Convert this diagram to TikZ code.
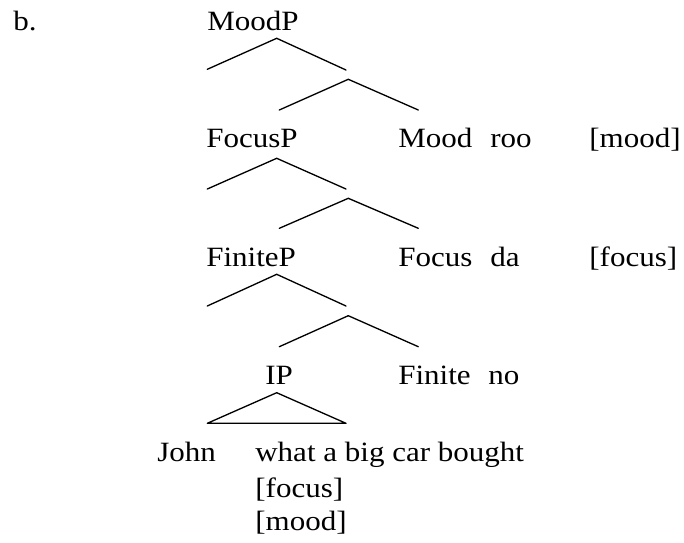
\documentclass[tikz,border=0pt]{standalone}
\usepackage{fontspec}
\setmainfont{Liberation Serif}[FakeStretch=1.11]
\usepackage{tikz,tkz-euclide}

\begin{document}
\begin{tikzpicture}[x=0.02cm,y=-0.02cm, line join=round, line cap=round,
    word/.style={anchor=base west, inner sep=0pt, font=\fontsize{15.9}{18}\selectfont}]
        \useasboundingbox (0,0) rectangle (684,542);
        \node[word] (ex) at (13,30) {b.};
        \node[word] (moodp) at (207,30) {MoodP};
        \node[word] (focusp) at (206,147) {FocusP};
        \node[word] (mood) at (398,147) {Mood};
        \node[word] (roo) at (490,147) {roo};
        \node[word] (fmood) at (589,147) {[mood]};
        \node[word] (finitep) at (206,266) {FiniteP};
        \node[word] (focus) at (398,266) {Focus};
        \node[word] (da) at (490,266) {da};
        \node[word] (ffocus) at (589,266) {[focus]};
        \node[word] (ip) at (265,384) {IP};
        \node[word] (finite) at (398,384) {Finite};
        \node[word] (no) at (488,384) {no};
        \node[word] (john) at (157,461) {John};
        \node[word] (vp) at (255,461) {what a big car bought};
        \node[word] (vfocus) at (255,497) {[focus]};
        \node[word] (vmood) at (255,530) {[mood]};
        % branches under MoodP, FocusP, FiniteP
        \tkzDefPoints{276.7/38.3/M,207.3/69.3/M1,346/70/M2,348.3/79.3/M',279.3/110/M3,418.3/110/M4}
        \tkzDefPoints{276.7/158.3/F,207.3/189/F1,346/189/F2,348.3/198.3/F',279.3/228.3/F3,418.3/228.3/F4}
        \tkzDefPoints{276.7/274.3/N,207.3/306/N1,346/306/N2,348.3/315.7/N',279.3/346.7/N3,418.3/346.7/N4}
        \tkzDefPoints{276.7/392.7/I,207.3/423.3/I1,346/423.3/I2}
        \tkzDrawSegments[line width=0.75pt](M,M1 M,M2 M',M3 M',M4)
        \tkzDrawSegments[line width=0.75pt](F,F1 F,F2 F',F3 F',F4)
        \tkzDrawSegments[line width=0.75pt](N,N1 N,N2 N',N3 N',N4)
        \tkzDrawPolygon[line width=0.75pt](I,I1,I2)
\end{tikzpicture}
\end{document}
